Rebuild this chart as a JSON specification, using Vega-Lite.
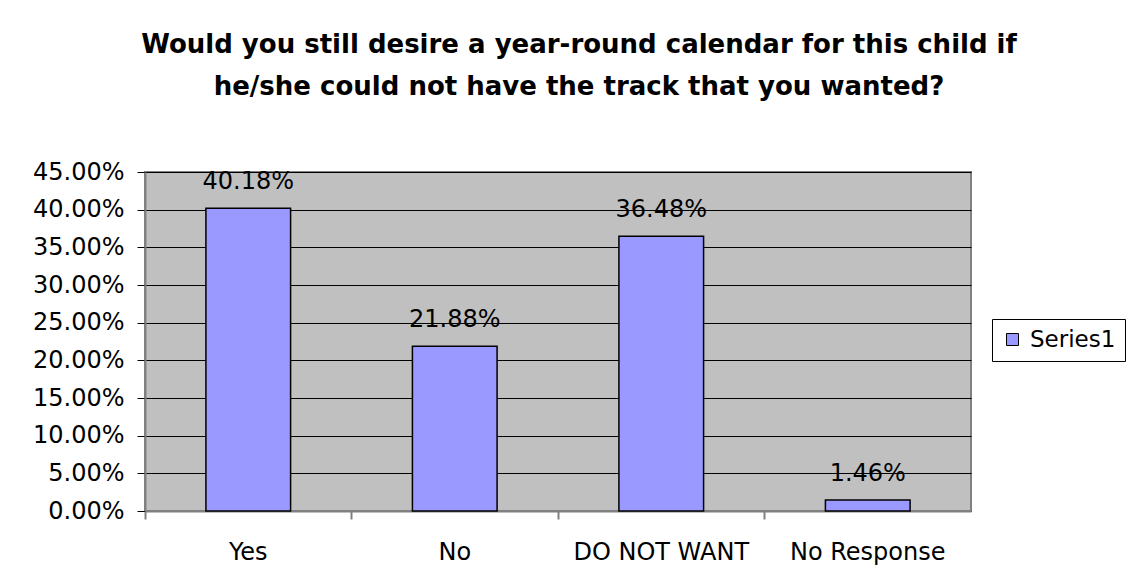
{
  "$schema": "https://vega.github.io/schema/vega-lite/v6.json",
  "width": 826,
  "height": 339,
  "padding": {"left": 32, "top": 32, "right": 5, "bottom": 5},
  "background": "white",
  "title": {
    "text": ["Would you still desire a year-round calendar for this child if", "he/she could not have the track that you wanted?"],
    "font": "DejaVu Sans",
    "fontSize": 26,
    "fontWeight": "bold",
    "color": "black",
    "lineHeight": 42,
    "offset": 60,
    "anchor": "middle",
    "frame": "bounds"
  },
  "data": {
    "values": [
      {"category": "Yes", "value": 0.4018, "series": "Series1"},
      {"category": "No", "value": 0.2188, "series": "Series1"},
      {"category": "DO NOT WANT", "value": 0.3648, "series": "Series1"},
      {"category": "No Response", "value": 0.0146, "series": "Series1"}
    ]
  },
  "encoding": {
    "x": {
      "field": "category",
      "type": "nominal",
      "sort": null,
      "scale": {"paddingInner": 0, "paddingOuter": 0},
      "axis": {
        "title": null,
        "labelAngle": 0,
        "labelFont": "DejaVu Sans",
        "labelFontSize": 24,
        "labelColor": "black",
        "labelPadding": 21,
        "bandPosition": 0,
        "tickColor": "#808080",
        "tickSize": 8,
        "tickWidth": 2,
        "domainColor": "#808080",
        "domainWidth": 2,
        "grid": false
      }
    },
    "y": {
      "field": "value",
      "type": "quantitative",
      "scale": {"domain": [0, 0.45], "nice": false},
      "axis": {
        "title": null,
        "values": [0, 0.05, 0.1, 0.15, 0.2, 0.25, 0.3, 0.35, 0.4, 0.45],
        "format": ".2%",
        "labelFont": "DejaVu Sans",
        "labelFontSize": 24,
        "labelColor": "black",
        "labelPadding": 13,
        "tickColor": "black",
        "tickSize": 8,
        "tickWidth": 1,
        "domainColor": "#808080",
        "domainWidth": 2,
        "grid": true,
        "gridColor": "black",
        "gridWidth": 1,
        "gridOpacity": 1
      }
    }
  },
  "layer": [
    {
      "mark": {"type": "bar", "width": {"band": 0.41}, "stroke": "black", "strokeWidth": 1.5},
      "encoding": {
        "color": {
          "field": "series",
          "type": "nominal",
          "scale": {"range": ["#9999FF"]},
          "legend": {
            "title": null,
            "orient": "none",
            "legendX": 847,
            "legendY": 147,
            "padding": 9,
            "strokeColor": "black",
            "fillColor": "white",
            "symbolType": "square",
            "symbolSize": 144,
            "symbolStrokeColor": "black",
            "symbolStrokeWidth": 1,
            "symbolOpacity": 1,
            "labelFont": "DejaVu Sans",
            "labelFontSize": 23,
            "labelColor": "black",
            "labelOffset": 6
          }
        }
      }
    },
    {
      "mark": {"type": "text", "font": "DejaVu Sans", "fontSize": 24, "color": "black", "baseline": "alphabetic", "dy": -19},
      "encoding": {"text": {"field": "value", "type": "quantitative", "format": ".2%"}}
    }
  ],
  "config": {
    "view": {"fill": "#C0C0C0", "stroke": "#808080", "strokeWidth": 2}
  }
}
